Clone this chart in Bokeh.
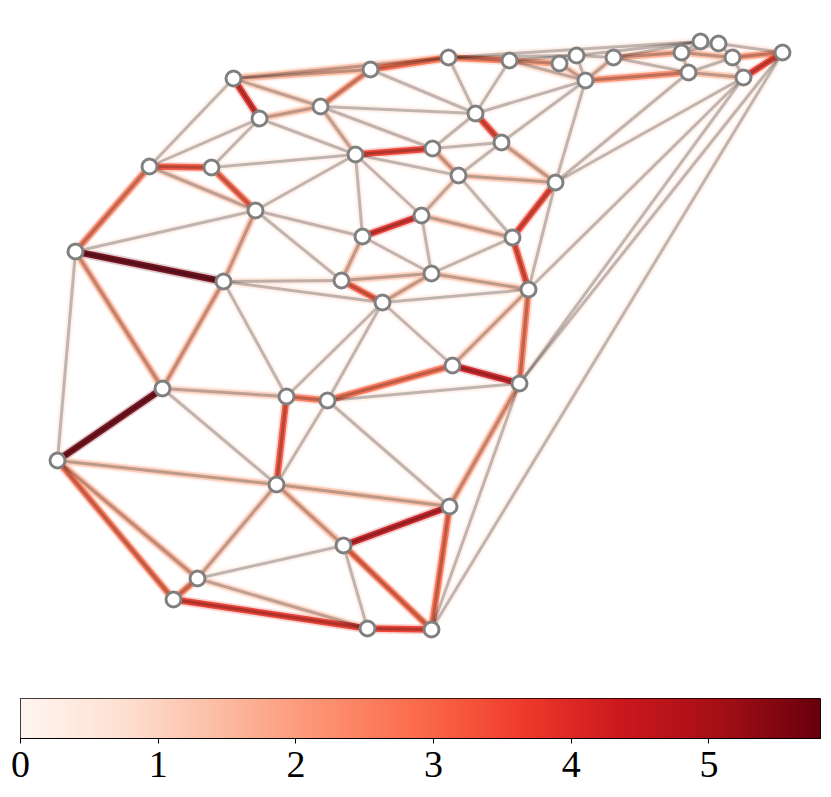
import numpy as np
from bokeh.plotting import figure
from bokeh.layouts import column
from bokeh.models import ColumnDataSource, LinearColorMapper, Range1d, FixedTicker
from bokeh.transform import linear_cmap
from bokeh.palettes import Reds256
from bokeh.embed import file_html
from bokeh.resources import INLINE

# ---- data ----
node_x = [233, 259, 320, 370, 448, 509, 559, 576, 585, 613, 681, 688, 700, 718, 732, 743, 782,
          475, 501, 432, 355, 458, 555, 149, 211, 255, 421, 362, 512, 75, 223, 341, 431, 382,
          528, 452, 519, 162, 286, 327, 57, 276, 449, 343, 197, 173, 367, 431]
node_y = [78, 118, 106, 69, 57, 60, 63, 55, 80, 57, 52, 72, 41, 43, 57, 77, 52,
          113, 142, 148, 154, 175, 182, 166, 167, 210, 215, 236, 237, 251, 281, 280, 273, 302,
          289, 365, 383, 388, 396, 400, 460, 484, 506, 545, 578, 599, 628, 629]

edge_a = [0, 0, 0, 0, 0, 1, 1, 1, 1, 2, 2, 2, 2, 3, 3, 4, 4, 4, 4, 5, 5, 5, 5, 6, 6, 7, 7, 7,
          8, 8, 8, 8, 8, 9, 9, 9, 10, 10, 10, 10, 11, 11, 11, 12, 13, 13, 14, 14, 15, 15, 15, 15,
          16, 16, 17, 17, 18, 18, 18, 19, 19, 20, 20, 20, 20, 20, 21, 21, 21, 22, 22, 23, 23, 23,
          24, 25, 25, 25, 25, 26, 26, 26, 27, 27, 28, 28, 29, 29, 29, 30, 30, 30, 30, 31, 31, 32,
          32, 33, 33, 33, 33, 34, 34, 35, 35, 36, 36, 36, 37, 37, 37, 38, 38, 39, 39, 40, 40, 40,
          41, 41, 41, 42, 42, 43, 43, 43, 44, 44, 45, 46]
edge_b = [1, 2, 3, 4, 23, 2, 20, 23, 24, 3, 17, 19, 20, 4, 17, 5, 7, 12, 17, 6, 7, 8, 17, 7, 8,
          8, 9, 12, 9, 11, 17, 18, 22, 10, 11, 12, 11, 12, 13, 14, 14, 15, 22, 13, 14, 16, 15, 16,
          16, 22, 34, 36, 36, 47, 18, 19, 19, 21, 22, 20, 21, 21, 24, 25, 26, 27, 22, 26, 28, 28,
          34, 24, 25, 29, 25, 27, 29, 30, 31, 27, 28, 32, 31, 32, 32, 34, 30, 37, 40, 31, 33, 37,
          38, 32, 33, 33, 34, 34, 35, 38, 39, 35, 36, 36, 39, 39, 42, 47, 38, 40, 41, 39, 41, 41,
          42, 41, 44, 45, 42, 43, 44, 43, 47, 44, 46, 47, 45, 46, 46, 47]
edge_val = [4.0, 1.0, 1.5, 1.3, 0.2, 1.3, 0.2, 0.2, 0.2, 2.2, 0.2, 0.3, 1.0, 2.9, 0.2, 2.6, 0.3,
            0.2, 0.2, 2.0, 0.3, 0.8, 0.2, 0.3, 1.2, 0.3, 0.3, 0.3, 1.0, 2.3, 0.2, 0.2, 0.2, 1.8,
            0.3, 0.3, 0.5, 0.3, 0.3, 1.5, 0.3, 1.3, 0.2, 0.3, 0.5, 0.3, 0.5, 2.2, 3.7, 0.2, 0.2,
            0.1, 0.2, 0.2, 3.5, 0.2, 0.2, 0.2, 1.3, 3.7, 1.5, 0.2, 0.2, 0.2, 0.2, 0.2, 1.2, 0.9,
            0.2, 3.5, 0.2, 3.3, 1.0, 2.5, 3.0, 0.3, 0.2, 1.4, 0.2, 3.9, 1.2, 0.2, 1.2, 0.2, 0.2,
            3.4, 5.8, 1.8, 0.2, 0.5, 0.3, 1.6, 0.2, 1.1, 3.2, 1.3, 1.2, 0.2, 0.2, 0.2, 0.2, 1.2,
            2.6, 4.4, 2.8, 0.2, 1.8, 0.2, 1.0, 5.7, 0.2, 2.7, 3.3, 0.2, 0.2, 1.2, 1.6, 2.8, 1.3,
            1.5, 1.2, 4.5, 2.9, 0.2, 0.2, 2.9, 2.6, 1.0, 3.8, 3.7]

VMAX = 5.81
cbar_ticks = [0, 1, 2, 3, 4, 5]

palette = list(reversed(Reds256))

order = np.argsort(edge_val, kind="stable")
src = ColumnDataSource(dict(
    x0=[node_x[edge_a[k]] for k in order],
    y0=[node_y[edge_a[k]] for k in order],
    x1=[node_x[edge_b[k]] for k in order],
    y1=[node_y[edge_b[k]] for k in order],
    val=[edge_val[k] for k in order],
))
cmap = linear_cmap("val", palette, 0, VMAX)

LEFT, RIGHT = 20, 11

p = figure(width=831, height=665, x_range=Range1d(20, 820), y_range=Range1d(665, 0),
           x_axis_type=None, y_axis_type=None, output_backend="svg", toolbar_location=None,
           min_border_left=LEFT, min_border_right=RIGHT, min_border_top=0, min_border_bottom=0)
p.outline_line_color = None
p.grid.visible = False

p.segment("x0", "y0", "x1", "y1", source=src, line_color=cmap, line_width=10, line_alpha=0.2)
p.segment("x0", "y0", "x1", "y1", source=src, line_color=cmap, line_width=6.5, line_alpha=0.9)
p.segment("x0", "y0", "x1", "y1", source=src, line_color="black", line_width=3, line_alpha=0.25)
p.scatter(node_x, node_y, size=15, fill_color="white", line_color="#808080", line_width=3)

# ---- colour bar ----
mapper = LinearColorMapper(palette=palette, low=0, high=VMAX)
cb = figure(width=831, height=130, x_range=Range1d(0, VMAX), y_range=Range1d(0, 1),
            y_axis_type=None, output_backend="svg", toolbar_location=None,
            min_border_left=LEFT, min_border_right=RIGHT, min_border_top=33, min_border_bottom=57)
cb.image(image=[np.linspace(0, VMAX, 512).reshape(1, -1)], x=0, y=0, dw=VMAX, dh=1,
         color_mapper=mapper)
cb.grid.visible = False
cb.outline_line_color = "black"
cb.outline_line_width = 1
cb.xaxis.ticker = FixedTicker(ticks=cbar_ticks)
cb.xaxis.major_label_text_font = "Liberation Serif"
cb.xaxis.major_label_text_font_size = "38px"
cb.xaxis.major_label_text_color = "black"
cb.xaxis.major_label_standoff = 8
cb.xaxis.major_tick_out = 5
cb.xaxis.major_tick_in = 0
cb.xaxis.minor_tick_out = 0
cb.xaxis.minor_tick_in = 0
cb.xaxis.axis_line_color = "black"
cb.xaxis.major_tick_line_color = "black"

layout = column(p, cb, spacing=0)
open("out.html", "w").write(file_html(layout, INLINE))
